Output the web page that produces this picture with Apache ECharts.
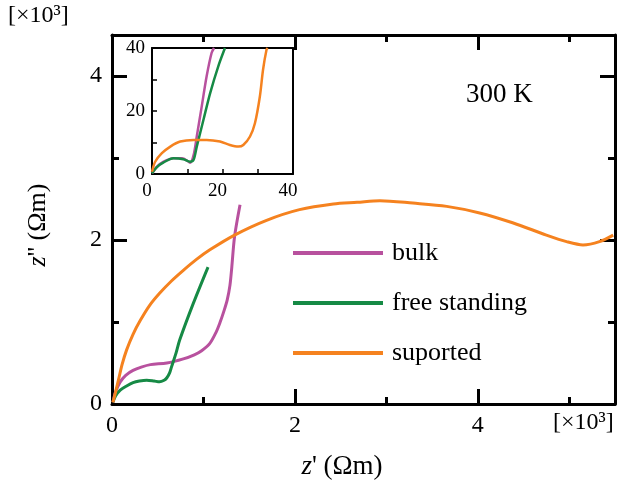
<!DOCTYPE html>
<html lang="en">
<head>
  <meta charset="UTF-8" />
  <title>Impedance 300 K</title>
  <style>
    * { padding: 0; margin: 0; }
    html, body { width: 100%; height: 100%; background: #fff; }
    #chart { width: 621px; height: 484px; }
  </style>
</head>
<body>
  <div id="chart"></div>
  <script src="https://cdn.jsdelivr.net/npm/echarts@6/dist/echarts.min.js"></script>
  <script>
    // series names
    var names = ['bulk', 'free standing', 'suported']
    var colors = ['#B8519E', '#168A45', '#F5821F']

    // main plot, [z', z''] in 10^3 Ωm
    var bulkMain = [[0.01, 0.02], [0.04, 0.15], [0.09, 0.27], [0.15, 0.35], [0.23, 0.41], [0.32, 0.45], [0.42, 0.48],
      [0.6, 0.5], [0.78, 0.55], [0.9, 0.6], [0.98, 0.65], [1.07, 0.74], [1.14, 0.88], [1.18, 0.99], [1.22, 1.12],
      [1.26, 1.27], [1.29, 1.45], [1.31, 1.67], [1.34, 2.04], [1.40, 2.43]]
    var freeMain = [[0.01, 0.02], [0.04, 0.1], [0.09, 0.17], [0.16, 0.22], [0.23, 0.26], [0.3, 0.28], [0.38, 0.29],
      [0.46, 0.28], [0.52, 0.27], [0.57, 0.29], [0.6, 0.32], [0.63, 0.38], [0.65, 0.45], [0.7, 0.62], [0.74, 0.78],
      [0.89, 1.23], [1.05, 1.67]]
    var supMain = [[0.01, 0.02], [0.04, 0.15], [0.07, 0.29], [0.11, 0.48], [0.16, 0.66], [0.23, 0.85], [0.31, 1.02],
      [0.41, 1.2], [0.52, 1.35], [0.65, 1.5], [0.78, 1.63], [0.92, 1.76], [1.07, 1.88], [1.34, 2.06], [1.69, 2.24],
      [2.05, 2.37], [2.42, 2.44], [2.68, 2.46], [2.93, 2.48], [3.29, 2.45], [3.66, 2.41], [4.02, 2.33], [4.38, 2.21],
      [4.75, 2.06], [4.97, 1.98], [5.15, 1.94], [5.33, 1.98], [5.48, 2.06]]

    // inset, [z', z''] in Ωm
    var bulkInset = [[0, 0.2], [1.4, 2.3], [3.3, 3.9], [6.1, 5.0], [8.5, 5.0], [10.4, 3.9], [10.8, 3.6], [11.8, 6.0],
      [12.7, 11.9], [14.1, 21.4], [15.5, 31], [16.9, 38.4], [17.6, 40]]
    var freeInset = [[0, 0.2], [1.4, 2.2], [3.3, 3.7], [6.1, 5.0], [8.9, 4.7], [10.8, 3.9], [11.8, 4.5], [12.7, 8.7],
      [14.6, 17.2], [16.5, 25.7], [18.8, 34.2], [20.7, 40]]
    var supInset = [[0, 0.7], [0.9, 3.9], [2.8, 6.6], [5.2, 8.7], [8, 10.3], [11.8, 10.8], [15.5, 10.8], [19.3, 10.3],
      [22.1, 9.2], [24.5, 8.7], [25.9, 9.2], [27.8, 11.9], [29.2, 16.1], [30.6, 24.6], [31.5, 33.1], [32.5, 39.5], [32.8, 40]]

    var mainTicksX = [0, 2, 4]
    var mainTicksY = [0, 2, 4]
    var insetTicks = [0, 20, 40]

    var font = 'Liberation Serif'
    var myChart = echarts.init(document.getElementById('chart'))

    var mainGrid = { left: 112, top: 35, width: 503, height: 369, outerBoundsMode: 'none' }
    var insetGrid = { left: 152, top: 48, width: 141, height: 126, outerBoundsMode: 'none', show: true, backgroundColor: '#fff', borderWidth: 0 }

    var hiddenLine = { show: false, onZero: false }
    var minorTick = { show: true, inside: true, length: 7, lineStyle: { color: '#000', width: 3 } }
    var insetLine = { show: true, onZero: false, lineStyle: { color: '#000', width: 2 } }

    function frameAxis(opt) {
      return Object.assign({
        type: 'value',
        axisLine: { show: true, onZero: false, lineStyle: { color: '#000', width: 3 } },
        axisTick: { show: true, inside: true, length: 15, lineStyle: { color: '#000', width: 3 } },
        axisLabel: { show: false },
        splitLine: { show: false }
      }, opt)
    }

    function mainLabel(list) {
      return {
        show: true, color: '#000', fontFamily: font, fontSize: 24, margin: 10,
        formatter: function (v) { return list.indexOf(v) >= 0 ? String(v) : '' }
      }
    }

    function insetLabel(margin, padding) {
      return {
        show: true, color: '#000', fontFamily: font, fontSize: 19, margin: margin, padding: padding,
        formatter: function (v) { return insetTicks.indexOf(v) >= 0 ? String(v) : '' }
      }
    }

    var xAxes = [
      frameAxis({ gridIndex: 0, position: 'bottom', min: 0, max: 5.5, interval: 2, axisLabel: mainLabel(mainTicksX) }),
      frameAxis({ gridIndex: 0, position: 'top', min: 0, max: 5.5, interval: 2 }),
      frameAxis({ gridIndex: 1, position: 'bottom', min: 0, max: 5.5, interval: 1, axisLine: hiddenLine, axisTick: minorTick }),
      frameAxis({ gridIndex: 1, position: 'top', min: 0, max: 5.5, interval: 1, axisLine: hiddenLine, axisTick: minorTick }),
      frameAxis({ gridIndex: 2, position: 'bottom', min: 0, max: 40, interval: 10, axisLine: insetLine,
        axisTick: { show: true, inside: true, length: 5, lineStyle: { color: '#000', width: 1.5 } },
        axisLabel: insetLabel(8, [0, 10, 0, 0]) }),
      frameAxis({ gridIndex: 2, position: 'top', min: 0, max: 40, interval: 10, axisLine: insetLine, axisTick: { show: false } })
    ]
    var yAxes = [
      frameAxis({ gridIndex: 0, position: 'left', min: 0, max: 4.5, interval: 2, axisLabel: mainLabel(mainTicksY) }),
      frameAxis({ gridIndex: 0, position: 'right', min: 0, max: 4.5, interval: 2 }),
      frameAxis({ gridIndex: 1, position: 'left', min: 0, max: 4.5, interval: 1, axisLine: hiddenLine, axisTick: minorTick }),
      frameAxis({ gridIndex: 1, position: 'right', min: 0, max: 4.5, interval: 1, axisLine: hiddenLine, axisTick: minorTick }),
      frameAxis({ gridIndex: 2, position: 'left', min: 0, max: 40, interval: 10, axisLine: insetLine,
        axisTick: { show: true, inside: true, length: 5, lineStyle: { color: '#000', width: 1.5 } },
        axisLabel: insetLabel(7, 0) }),
      frameAxis({ gridIndex: 2, position: 'right', min: 0, max: 40, interval: 10, axisLine: insetLine, axisTick: { show: false } })
    ]

    function line(name, data, axis, color, width) {
      return {
        type: 'line', name: name, data: data, xAxisIndex: axis, yAxisIndex: axis,
        color: color, showSymbol: false, smooth: 0.3, clip: true,
        lineStyle: { color: color, width: width }, z: 3
      }
    }

    var option = {
      animation: false,
      backgroundColor: '#fff',
      grid: [mainGrid, Object.assign({}, mainGrid), insetGrid],
      xAxis: xAxes,
      yAxis: yAxes,
      legend: {
        data: names,
        orient: 'vertical',
        left: 293,
        top: 239,
        padding: 0,
        icon: 'rect',
        itemWidth: 90,
        itemHeight: 4,
        itemGap: 22,
        selectedMode: false,
        textStyle: { color: '#000', fontFamily: font, fontSize: 26, lineHeight: 28, padding: [0, 0, 0, 4] }
      },
      series: [
        line(names[0], bulkMain, 0, colors[0], 3),
        line(names[1], freeMain, 0, colors[1], 3),
        line(names[2], supMain, 0, colors[2], 3),
        line(names[0], bulkInset, 4, colors[0], 2.5),
        line(names[1], freeInset, 4, colors[1], 2.5),
        line(names[2], supInset, 4, colors[2], 2.5)
      ],
      graphic: [
        { type: 'text', left: 8, top: 4, style: { text: '[×10³]', font: '24px ' + font, fill: '#000' } },
        { type: 'text', left: 553, top: 411, style: { text: '[×10³]', font: '24px ' + font, fill: '#000' } },
        { type: 'text', left: 466, top: 81, style: { text: '300 K', font: '27px ' + font, fill: '#000' } },
        {
          type: 'text', x: 342, y: 467,
          style: {
            text: "{i|z}' (Ωm)", font: '27px ' + font, fill: '#000', align: 'center', verticalAlign: 'middle',
            rich: { i: { fontStyle: 'italic', fontSize: 27, fontFamily: font } }
          }
        },
        {
          type: 'text', x: 38, y: 225, rotation: Math.PI / 2,
          style: {
            text: "{i|z}'' (Ωm)", font: '26px ' + font, fill: '#000', align: 'center', verticalAlign: 'middle',
            rich: { i: { fontStyle: 'italic', fontSize: 26, fontFamily: font } }
          }
        }
      ]
    }
    myChart.setOption(option)
  </script>
</body>
</html>
